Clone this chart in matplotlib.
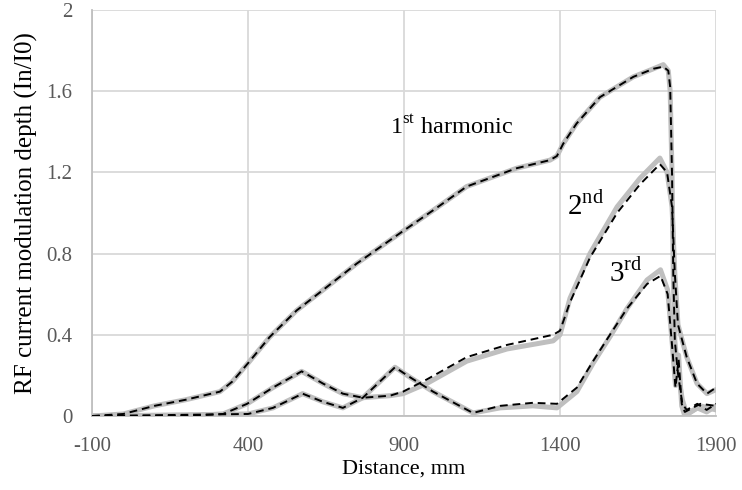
import matplotlib
matplotlib.use("Agg")
import matplotlib.pyplot as plt

plt.rcParams['font.family'] = ['Liberation Serif', 'DejaVu Serif']
plt.rcParams['mathtext.fontset'] = 'custom'
plt.rcParams['mathtext.rm'] = 'Liberation Serif'
plt.rcParams['axes.unicode_minus'] = False

# 1st harmonic
x1 = [-100, 0, 100, 200, 310, 350, 400, 470, 556, 640, 748, 887, 1000, 1101, 1261, 1368, 1390, 1410,
      1453, 1528, 1635, 1700, 1731, 1747, 1753, 1759, 1763, 1768, 1778, 1792, 1806, 1840, 1870, 1900]
y1_meas = [0, 0.01, 0.05, 0.08, 0.12, 0.17, 0.26, 0.39, 0.52, 0.62, 0.75, 0.90, 1.02, 1.13, 1.22, 1.26, 1.28, 1.34,
           1.44, 1.57, 1.67, 1.71, 1.73, 1.70, 1.60, 1.19, 0.70, 0.37, 0.21, 0.08, 0.01, 0.04, 0.02, 0.05]
y1_sim = [0, 0.01, 0.05, 0.08, 0.12, 0.17, 0.26, 0.39, 0.52, 0.62, 0.75, 0.90, 1.02, 1.13, 1.22, 1.26, 1.28, 1.34,
          1.44, 1.57, 1.67, 1.71, 1.72, 1.70, 1.62, 1.19, 0.70, 0.37, 0.21, 0.06, 0.03, 0.06, 0.03, 0.06]

# 2nd harmonic
x2 = [-100, 200, 320, 397, 480, 572, 640, 704, 768, 855, 897, 973, 1101, 1230, 1378, 1400,
      1432, 1496, 1583, 1656, 1720, 1743, 1759, 1768, 1778, 1806, 1839, 1871, 1900]
y2_meas = [0, 0, 0.01, 0.06, 0.14, 0.22, 0.16, 0.11, 0.09, 0.10, 0.11, 0.16, 0.27, 0.33, 0.37, 0.40,
           0.58, 0.80, 1.03, 1.17, 1.27, 1.20, 1.03, 0.70, 0.45, 0.29, 0.16, 0.11, 0.13]
y2_sim = [0, 0, 0.01, 0.06, 0.14, 0.22, 0.16, 0.11, 0.09, 0.10, 0.12, 0.18, 0.29, 0.35, 0.40, 0.42,
          0.56, 0.78, 1.00, 1.14, 1.24, 1.20, 1.03, 0.70, 0.45, 0.29, 0.16, 0.11, 0.14]

# 3rd harmonic
x3 = [-100, 400, 480, 575, 640, 704, 768, 871, 920, 993, 1121, 1208, 1313, 1390, 1454, 1506,
      1560, 1615, 1679, 1722, 1745, 1760, 1770, 1780, 1790, 1800, 1850, 1900]
y3_meas = [0, 0.01, 0.04, 0.11, 0.07, 0.04, 0.09, 0.24, 0.19, 0.12, 0.015, 0.04, 0.05, 0.04, 0.12, 0.26,
           0.39, 0.53, 0.67, 0.72, 0.62, 0.35, 0.15, 0.30, 0.05, 0.0, 0.05, 0.03]
y3_sim = [0, 0.01, 0.04, 0.11, 0.07, 0.04, 0.09, 0.24, 0.19, 0.12, 0.015, 0.05, 0.065, 0.06, 0.14, 0.27,
          0.40, 0.53, 0.65, 0.69, 0.60, 0.33, 0.14, 0.28, 0.06, 0.02, 0.06, 0.05]

labels = [r'1$^{\rm st}$ harmonic', r'2$^{\rm nd}$', r'3$^{\rm rd}$']
label_pos = [(1054, 1.42), (1483, 1.03), (1612, 0.70)]
label_size = [17.5, 21, 21]

fig = plt.figure(figsize=(7.42, 4.90), dpi=100)
ax = fig.add_axes([0.124, 0.151, 0.841, 0.829])

for x, ym, ys in [(x1, y1_meas, y1_sim), (x2, y2_meas, y2_sim), (x3, y3_meas, y3_sim)]:
    ax.plot(x, ym, color='#BFBFBF', lw=3.6, solid_capstyle='round', solid_joinstyle='round', zorder=2)
    ax.plot(x, ys, color='black', lw=1.4, dashes=(4, 2.5), zorder=3)

for txt, (tx, ty), fs in zip(labels, label_pos, label_size):
    ax.text(tx, ty, txt, fontsize=fs, ha='center', va='center', color='black')

ax.set_xlim(-100, 1900)
ax.set_ylim(0, 2)
ax.set_xticks([-100, 400, 900, 1400, 1900])
ax.set_yticks([0, 0.4, 0.8, 1.2, 1.6, 2])
ax.set_yticklabels(['0', '0.4', '0.8', '1.2', '1.6', '2'])
ax.grid(True, color='#D9D9D9', lw=1.3, zorder=0)
ax.set_axisbelow(True)
for s in ['top', 'right']:
    ax.spines[s].set_visible(False)
for s in ['left', 'bottom']:
    ax.spines[s].set_color('#BFBFBF')
    ax.spines[s].set_linewidth(1.3)
ax.tick_params(length=0, labelsize=15, labelcolor='#595959')
ax.tick_params(axis='x', pad=15)
ax.tick_params(axis='y', pad=14)
ax.set_xlabel('Distance, mm', fontsize=16, labelpad=3)
ax.set_ylabel('RF current modulation depth (In/I0)', fontsize=18, labelpad=6)

fig.savefig('out.png', dpi=100)
